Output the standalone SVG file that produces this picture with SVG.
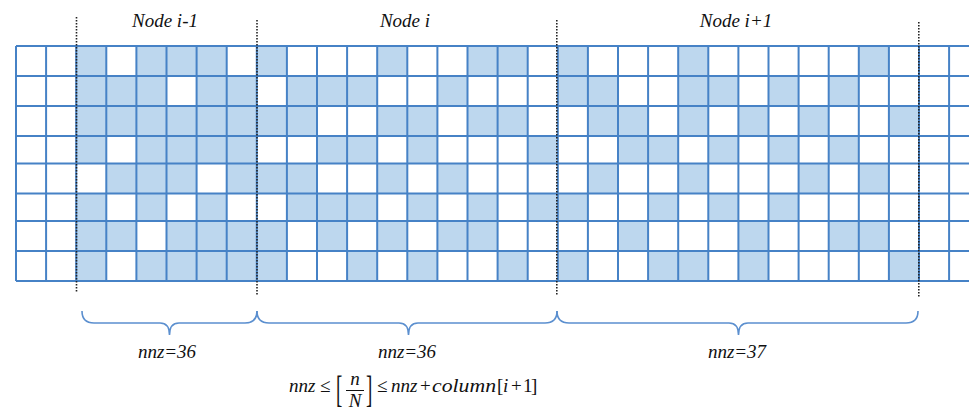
<svg xmlns="http://www.w3.org/2000/svg" width="969" height="419" viewBox="0 0 969 419">
<style>
.c{fill:#bdd7ee}
.grid{stroke:#4682c6;stroke-width:2;fill:none}
.sep{stroke:#222;stroke-width:1.6;stroke-dasharray:1.6 1.4;fill:none}
.brace{stroke:#5b8fcf;stroke-width:1.6;fill:none}
.lbl{font-family:"Liberation Serif","Times New Roman",serif;font-style:italic;font-size:19px;fill:#111;text-anchor:middle}
.m{font-family:"Liberation Serif","Times New Roman",serif;font-size:19px;fill:#111}
.i{font-style:italic}
</style>
<rect width="969" height="419" fill="#fff"/>

<g id="node-i-1">
<g id="cells-i-1">
<rect class="c" x="76.2" y="46" width="30.1" height="30"/><rect class="c" x="136.4" y="46" width="30.1" height="30"/><rect class="c" x="166.5" y="46" width="30.1" height="30"/><rect class="c" x="196.6" y="46" width="30.1" height="30"/>
<rect class="c" x="76.2" y="76" width="30.1" height="30"/><rect class="c" x="106.3" y="76" width="30.1" height="30"/><rect class="c" x="136.4" y="76" width="30.1" height="30"/><rect class="c" x="196.6" y="76" width="30.1" height="30"/><rect class="c" x="226.7" y="76" width="30.1" height="30"/>
<rect class="c" x="76.2" y="106" width="180.6" height="30"/>
<rect class="c" x="76.2" y="136" width="30.1" height="27.5"/><rect class="c" x="136.4" y="136" width="120.4" height="27.5"/>
<rect class="c" x="106.3" y="163.5" width="90.3" height="30"/><rect class="c" x="226.7" y="163.5" width="30.1" height="30"/>
<rect class="c" x="76.2" y="193.5" width="30.1" height="27.5"/><rect class="c" x="136.4" y="193.5" width="30.1" height="27.5"/><rect class="c" x="196.6" y="193.5" width="30.1" height="27.5"/>
<rect class="c" x="76.2" y="221" width="60.2" height="30"/><rect class="c" x="166.5" y="221" width="90.3" height="30"/>
<rect class="c" x="76.2" y="251" width="30.1" height="30"/><rect class="c" x="136.4" y="251" width="120.4" height="30"/>
</g>
<text class="lbl" x="165" y="27">Node i-1</text>
<path class="brace" d="M82 311 Q82 323 94 323 H160 Q169.5 323 169.5 335 Q169.5 323 179 323 H245 Q257 323 257 311"/>
<text class="lbl" x="167" y="358">nnz=36</text>
</g>

<g id="node-i">
<g id="cells-i">
<rect class="c" x="256.8" y="46" width="30.1" height="30"/><rect class="c" x="377.2" y="46" width="30.1" height="30"/><rect class="c" x="467.5" y="46" width="60.2" height="30"/>
<rect class="c" x="286.9" y="76" width="90.3" height="30"/><rect class="c" x="437.4" y="76" width="30.1" height="30"/>
<rect class="c" x="256.8" y="106" width="60.2" height="30"/><rect class="c" x="377.2" y="106" width="60.2" height="30"/><rect class="c" x="467.5" y="106" width="60.2" height="30"/>
<rect class="c" x="317" y="136" width="60.2" height="27.5"/><rect class="c" x="407.3" y="136" width="30.1" height="27.5"/><rect class="c" x="527.7" y="136" width="30.1" height="27.5"/>
<rect class="c" x="256.8" y="163.5" width="60.2" height="30"/><rect class="c" x="377.2" y="163.5" width="30.1" height="30"/><rect class="c" x="437.4" y="163.5" width="30.1" height="30"/>
<rect class="c" x="286.9" y="193.5" width="90.3" height="27.5"/><rect class="c" x="407.3" y="193.5" width="30.1" height="27.5"/><rect class="c" x="467.5" y="193.5" width="30.1" height="27.5"/><rect class="c" x="527.7" y="193.5" width="30.1" height="27.5"/>
<rect class="c" x="256.8" y="221" width="30.1" height="30"/><rect class="c" x="317" y="221" width="30.1" height="30"/><rect class="c" x="377.2" y="221" width="30.1" height="30"/><rect class="c" x="437.4" y="221" width="60.2" height="30"/>
<rect class="c" x="256.8" y="251" width="30.1" height="30"/><rect class="c" x="347.1" y="251" width="30.1" height="30"/><rect class="c" x="407.3" y="251" width="30.1" height="30"/><rect class="c" x="497.6" y="251" width="30.1" height="30"/>
</g>
<text class="lbl" x="405" y="27">Node i</text>
<path class="brace" d="M257 311 Q257 323 269 323 H399 Q408.5 323 408.5 335 Q408.5 323 418 323 H545 Q557 323 557 311"/>
<text class="lbl" x="407" y="358">nnz=36</text>
</g>

<g id="node-i+1">
<g id="cells-i+1">
<rect class="c" x="557.8" y="46" width="30.1" height="30"/><rect class="c" x="678.2" y="46" width="30.1" height="30"/><rect class="c" x="858.8" y="46" width="30.1" height="30"/>
<rect class="c" x="557.8" y="76" width="60.2" height="30"/><rect class="c" x="678.2" y="76" width="60.2" height="30"/><rect class="c" x="768.5" y="76" width="30.1" height="30"/><rect class="c" x="828.7" y="76" width="30.1" height="30"/>
<rect class="c" x="587.9" y="106" width="60.2" height="30"/><rect class="c" x="678.2" y="106" width="30.1" height="30"/><rect class="c" x="738.4" y="106" width="30.1" height="30"/><rect class="c" x="798.6" y="106" width="30.1" height="30"/><rect class="c" x="888.9" y="106" width="30.1" height="30"/>
<rect class="c" x="618" y="136" width="60.2" height="27.5"/><rect class="c" x="708.3" y="136" width="30.1" height="27.5"/><rect class="c" x="768.5" y="136" width="30.1" height="27.5"/><rect class="c" x="828.7" y="136" width="30.1" height="27.5"/>
<rect class="c" x="587.9" y="163.5" width="30.1" height="30"/><rect class="c" x="678.2" y="163.5" width="30.1" height="30"/><rect class="c" x="798.6" y="163.5" width="30.1" height="30"/><rect class="c" x="858.8" y="163.5" width="30.1" height="30"/>
<rect class="c" x="557.8" y="193.5" width="30.1" height="27.5"/><rect class="c" x="648.1" y="193.5" width="30.1" height="27.5"/><rect class="c" x="708.3" y="193.5" width="30.1" height="27.5"/><rect class="c" x="768.5" y="193.5" width="30.1" height="27.5"/>
<rect class="c" x="618" y="221" width="30.1" height="30"/><rect class="c" x="738.4" y="221" width="30.1" height="30"/><rect class="c" x="828.7" y="221" width="60.2" height="30"/>
<rect class="c" x="557.8" y="251" width="30.1" height="30"/><rect class="c" x="648.1" y="251" width="60.2" height="30"/><rect class="c" x="738.4" y="251" width="30.1" height="30"/><rect class="c" x="888.9" y="251" width="30.1" height="30"/>
</g>
<text class="lbl" x="736" y="27">Node i+1</text>
<path class="brace" d="M557 311 Q557 323 569 323 H729 Q738.5 323 738.5 335 Q738.5 323 748 323 H906 Q918 323 918 311"/>
<text class="lbl" x="737" y="358">nnz=37</text>
</g>

<g id="grid">
<path class="grid" d="M16 46H969M16 76H969M16 106H969M16 136H969M16 163.5H969M16 193.5H969M16 221H969M16 251H969M16 281H969"/>
<path class="grid" d="M16 46V281M46.1 46V281M76.2 46V281M106.3 46V281M136.4 46V281M166.5 46V281M196.6 46V281M226.7 46V281M256.8 46V281M286.9 46V281M317 46V281M347.1 46V281M377.2 46V281M407.3 46V281M437.4 46V281M467.5 46V281M497.6 46V281M527.7 46V281M557.8 46V281M587.9 46V281M618 46V281M648.1 46V281M678.2 46V281M708.3 46V281M738.4 46V281M768.5 46V281M798.6 46V281M828.7 46V281M858.8 46V281M888.9 46V281M919 46V281M949.1 46V281"/>
</g>

<g id="separators">
<path class="sep" d="M76.5 17V292M257 20V295M556.8 20V295M918.8 22V297"/>
</g>

<g id="formula">
<text class="m i" x="289" y="392">nnz</text>
<text class="m" x="320" y="392">≤</text>
<text class="m" transform="translate(336,401.5) scale(1,2.05)">[</text>
<text class="m i" x="355" y="385" text-anchor="middle">n</text>
<line x1="346" y1="390.5" x2="364" y2="390.5" stroke="#111" stroke-width="1"/>
<text class="m i" x="355" y="407" text-anchor="middle">N</text>
<text class="m" transform="translate(366,401.5) scale(1,2.05)">]</text>
<text class="m" x="377" y="392">≤</text>
<text class="m i" x="391" y="392">nnz</text>
<text class="m" x="420" y="392">+</text>
<text class="m i" x="432" y="392" textLength="64" lengthAdjust="spacingAndGlyphs">column</text>
<text class="m" x="497" y="392">[</text>
<text class="m i" x="503" y="392">i</text>
<text class="m" x="511" y="392">+</text>
<text class="m" x="523" y="392">1</text>
<text class="m" x="531" y="392">]</text>
</g>
</svg>
